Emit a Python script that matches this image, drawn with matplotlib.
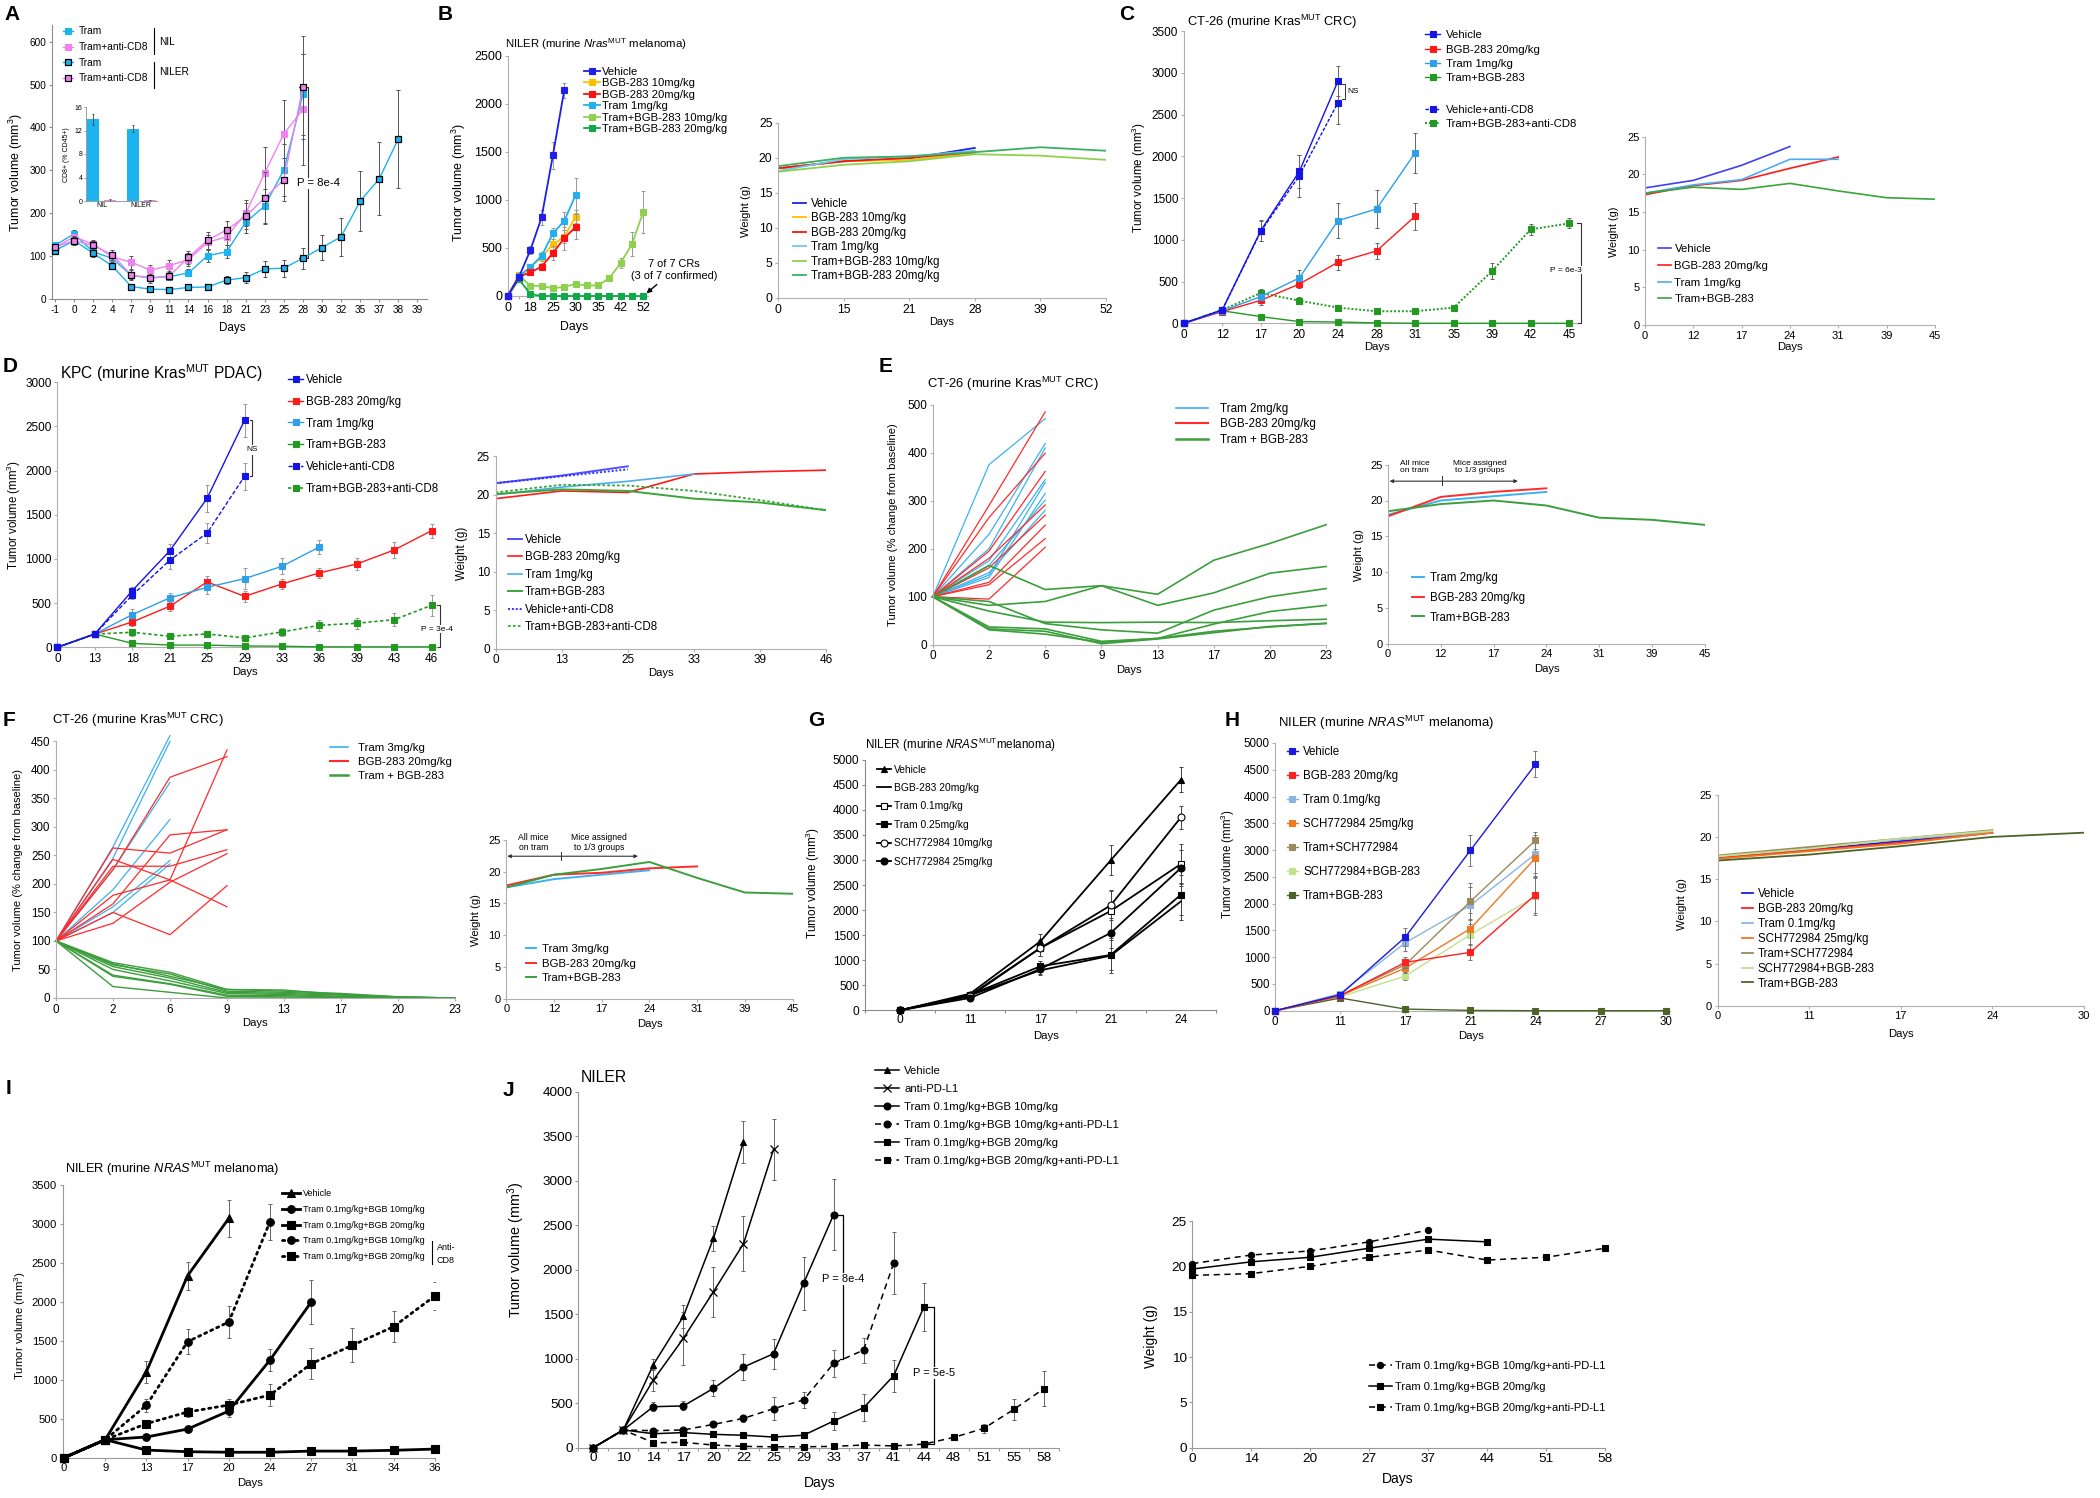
import numpy as np
import matplotlib
matplotlib.use('Agg')
import matplotlib.pyplot as plt
from matplotlib.lines import Line2D
from matplotlib.legend import Legend

plt.rcParams['font.family'] = ['Liberation Sans', 'DejaVu Sans']
plt.rcParams['mathtext.fontset'] = 'custom'
plt.rcParams['mathtext.rm'] = 'Liberation Sans'
plt.rcParams['mathtext.it'] = 'Liberation Sans:italic'
plt.rcParams['mathtext.bf'] = 'Liberation Sans:bold'
plt.rcParams['axes.unicode_minus'] = False

# ======================= DATA =======================
# Panel A
A_days = ['-1', '0', '2', '4', '7', '9', '11', '14', '16', '18', '21', '23', '25', '28', '30', '32', '35', '37', '38', '39']
A_nil_tram = [125, 152, 110, 95, 55, 50, 52, 61, 101, 110, 179, 217, 301, 477]
A_nil_tram_err = [8, 10, 8, 10, 8, 6, 6, 8, 15, 15, 25, 40, 60, 95]
A_nil_cd8 = [120, 145, 128, 98, 86, 67, 78, 92, 132, 145, 200, 294, 385, 442]
A_nil_cd8_err = [8, 8, 10, 12, 15, 12, 12, 15, 18, 20, 30, 60, 80, 130]
A_niler_tram = [113, 136, 107, 77, 29, 23, 22, 27, 28, 44, 50, 70, 72, 95, 120, 145, 228, 280, 373]
A_niler_tram_err = [6, 8, 8, 8, 4, 3, 3, 4, 4, 10, 12, 18, 20, 25, 30, 45, 70, 85, 115]
A_niler_cd8 = [121, 136, 125, 103, 56, 48, 54, 97, 137, 161, 193, 236, 278, 494]
A_niler_cd8_err = [8, 10, 10, 12, 12, 10, 10, 15, 20, 22, 30, 60, 50, 120]
A_inset_groups = ['NIL', 'NILER']
A_inset_tram = [13.9, 12.3]
A_inset_tram_err = [0.9, 0.6]
A_inset_cd8 = [0.2, 0.1]
A_inset_cd8_err = [0.15, 0.05]

# Panel B
B_days = ['0', '', '18', '', '25', '', '30', '', '35', '', '42', '', '52']
B_vehicle = [0, 200, 475, 818, 1463, 2139]
B_vehicle_err = [0, 20, 40, 80, 140, 80]
B_bgb10 = [0, 200, 300, 405, 537, 617, 825]
B_bgb10_err = [0, 20, 30, 40, 60, 70, 70]
B_bgb20 = [0, 200, 246, 305, 447, 600, 718]
B_bgb20_err = [0, 20, 25, 35, 70, 120, 130]
B_tram = [0, 200, 302, 416, 652, 780, 1047]
B_tram_err = [0, 20, 30, 40, 60, 90, 180]
B_tb10 = [0, 215, 107, 104, 80, 95, 125, 110, 110, 187, 343, 541, 877]
B_tb10_err = [0, 20, 15, 15, 15, 15, 30, 20, 20, 20, 50, 120, 220]
B_tb20 = [0, 173, 21, 0, 0, 0, 0, 0, 0, 0, 0, 0, 0]
B_tb20_err = [0, 20, 8, 0, 0, 0, 0, 0, 0, 0, 0, 0, 0]
B_w_days = ['0', '15', '21', '28', '39', '52']
B_w_vehicle = [18.5, 19.5, 19.9, 21.4]
B_w_bgb10 = [18.5, 19.5, 19.7, 20.7]
B_w_bgb20 = [18.5, 19.5, 20.0, 20.8]
B_w_tram = [18.1, 19.8, 20.2, 21.0]
B_w_tb10 = [18.0, 19.0, 19.5, 20.5, 20.3, 19.7]
B_w_tb20 = [18.8, 20.0, 20.2, 20.8, 21.5, 21.0]

# Panel C
C_days = ['0', '12', '17', '20', '24', '28', '31', '35', '39', '42', '45']
C_vehicle = [0, 160, 1110, 1820, 2900]
C_vehicle_err = [0, 30, 130, 200, 180]
C_vehicle_cd8 = [0, 160, 1100, 1768, 2642]
C_vehicle_cd8_err = [0, 30, 120, 250, 260]
C_bgb20 = [0, 140, 275, 471, 730, 866, 1281]
C_bgb20_err = [0, 20, 50, 50, 90, 100, 160]
C_tram = [0, 150, 319, 543, 1229, 1369, 2039]
C_tram_err = [0, 20, 50, 90, 210, 230, 240]
C_tb = [0, 150, 80, 20, 15, 5, 0, 0, 0, 0, 0]
C_tb_err = [0, 20, 20, 10, 8, 5, 3, 3, 3, 3, 3]
C_tb_cd8 = [0, 160, 363, 271, 188, 144, 144, 188, 627, 1125, 1197]
C_tb_cd8_err = [0, 20, 50, 40, 30, 25, 25, 30, 100, 70, 60]
C_w_days = ['0', '12', '17', '24', '31', '39', '45']
C_w_vehicle = [18.2, 19.2, 21.2, 23.7]
C_w_bgb20 = [17.3, 18.5, 19.2, 20.8, 22.3]
C_w_tram = [17.5, 18.6, 19.3, 22.0, 22.0]
C_w_tb = [17.5, 18.3, 18.0, 18.8, 17.8, 16.9, 16.7]

# Panel D
D_days = ['0', '13', '18', '21', '25', '29', '33', '36', '39', '43', '46']
D_vehicle = [0, 151, 641, 1091, 1687, 2570]
D_vehicle_err = [0, 15, 40, 80, 150, 190]
D_vehicle_cd8 = [0, 151, 590, 985, 1294, 1936]
D_vehicle_cd8_err = [0, 15, 40, 100, 110, 150]
D_bgb20 = [0, 150, 287, 464, 740, 577, 717, 842, 943, 1102, 1321]
D_bgb20_err = [0, 15, 50, 50, 70, 60, 60, 60, 70, 90, 80]
D_tram = [0, 150, 370, 559, 679, 777, 917, 1136]
D_tram_err = [0, 15, 60, 60, 70, 120, 90, 80]
D_tb = [0, 150, 45, 25, 25, 15, 12, 5, 5, 5, 5]
D_tb_err = [0, 15, 15, 10, 10, 8, 8, 5, 5, 5, 5]
D_tb_cd8 = [0, 150, 170, 125, 151, 106, 174, 249, 272, 313, 476]
D_tb_cd8_err = [0, 15, 40, 30, 30, 30, 50, 60, 60, 70, 120]
D_w_days = ['0', '13', '25', '33', '39', '46']
D_w_vehicle = [21.5, 22.5, 23.7]
D_w_vehicle_cd8 = [21.5, 22.4, 23.3]
D_w_bgb20 = [19.5, 20.5, 20.3, 22.7, 23.0, 23.2]
D_w_tram = [20.0, 21.0, 21.75, 22.7]
D_w_tb = [20.1, 20.7, 20.5, 19.5, 19.0, 18.0]
D_w_tb_cd8 = [20.3, 21.3, 21.2, 20.5, 19.3, 18.0]

# Panel E (individual mice, % of baseline)
E_days = ['0', '2', '6', '9', '13', '17', '20', '23']
E_tram_mice = [[100, 375, 471], [100, 230, 419], [100, 200, 410], [100, 175, 344],
               [100, 145, 338], [100, 140, 315], [100, 165, 301], [100, 150, 280]]
E_bgb_mice = [[100, 290, 485], [100, 265, 399], [100, 195, 361], [100, 180, 291],
              [100, 130, 249], [100, 125, 221], [100, 95, 203], [100, 160, 270]]
E_tb_mice = [[100, 165, 115, 123, 105, 176, 211, 250],
             [100, 82, 90, 123, 82, 108, 149, 163],
             [100, 70, 47, 46, 47, 46, 50, 53],
             [100, 90, 44, 31, 24, 72, 100, 117],
             [100, 37, 33, 7, 13, 43, 69, 82],
             [100, 33, 28, 2, 12, 25, 38, 44],
             [100, 31, 22, 5, 13, 28, 37, 45]]
E_w_days = ['0', '12', '17', '24', '31', '39', '45']
E_w_tram = [18.0, 20.0, 20.6, 21.2]
E_w_bgb = [17.8, 20.5, 21.2, 21.7]
E_w_tb = [18.5, 19.5, 20.0, 19.3, 17.6, 17.3, 16.6]

# Panel F (individual mice, % of baseline)
F_days = ['0', '2', '6', '9', '13', '17', '20', '23']
F_tram_mice = [[100, 265, 460], [100, 245, 450], [100, 225, 378], [100, 190, 313],
               [100, 160, 241], [100, 150, 235]]
F_bgb_mice = [[100, 225, 387, 423], [100, 180, 207, 435], [100, 263, 254, 295],
              [100, 231, 231, 260], [100, 243, 207, 160], [100, 165, 286, 295],
              [100, 150, 111, 197], [100, 131, 203, 253]]
F_tb_mice = [[100, 62, 45, 15, 12, 8, 2, 0],
             [100, 58, 42, 12, 10, 6, 2, 0],
             [100, 55, 35, 10, 8, 5, 1, 0],
             [100, 50, 30, 8, 6, 3, 1, 0],
             [100, 40, 25, 5, 4, 2, 0, 0],
             [100, 38, 24, 3, 2, 1, 0, 0],
             [100, 20, 10, 0, 0, 0, 0, 0],
             [100, 60, 38, 15, 14, 6, 2, 0]]
F_w_days = ['0', '12', '17', '24', '31', '39', '45']
F_w_tram = [17.5, 18.8, 19.5, 20.2]
F_w_bgb = [17.8, 19.5, 19.8, 20.5, 20.8]
F_w_tb = [17.5, 19.5, 20.4, 21.5, 19.0, 16.7, 16.5]

# Panel G
G_days = ['0', '11', '17', '21', '24']
G_vehicle = [0, 332, 1376, 2992, 4601]
G_vehicle_err = [0, 30, 150, 300, 250]
G_bgb20 = [0, 300, 798, 1090, 2174]
G_bgb20_err = [0, 30, 100, 350, 370]
G_tram01 = [0, 300, 1243, 1981, 2919]
G_tram01_err = [0, 30, 150, 400, 400]
G_tram025 = [0, 310, 878, 1104, 2307]
G_tram025_err = [0, 30, 100, 300, 400]
G_sch10 = [0, 280, 1243, 2094, 3850]
G_sch10_err = [0, 30, 150, 300, 230]
G_sch25 = [0, 246, 824, 1543, 2839]
G_sch25_err = [0, 30, 100, 300, 350]

# Panel H
H_days = ['0', '11', '17', '21', '24', '27', '30']
H_vehicle = [0, 299, 1376, 2995, 4602]
H_vehicle_err = [0, 30, 170, 290, 240]
H_bgb20 = [0, 280, 903, 1090, 2167]
H_bgb20_err = [0, 30, 100, 150, 350]
H_tram01 = [0, 320, 1270, 1968, 2927]
H_tram01_err = [0, 30, 150, 350, 350]
H_sch25 = [0, 280, 797, 1532, 2852]
H_sch25_err = [0, 30, 100, 300, 350]
H_tram_sch = [0, 290, 859, 2042, 3182]
H_tram_sch_err = [0, 30, 100, 350, 160]
H_sch_bgb = [0, 260, 648, 1420, 2136]
H_sch_bgb_err = [0, 30, 80, 300, 350]
H_tb = [0, 237, 30, 5, 0, 0, 0]
H_tb_err = [0, 40, 20, 5, 5, 5, 5]
H_w_days = ['0', '11', '17', '24', '30']
H_w_vehicle = [17.5, 18.5, 19.5, 20.5]
H_w_bgb20 = [17.5, 18.4, 19.3, 20.5]
H_w_tram01 = [17.7, 18.7, 19.7, 20.6]
H_w_sch25 = [17.4, 18.3, 19.2, 20.5]
H_w_tram_sch = [17.8, 18.8, 19.8, 20.8]
H_w_sch_bgb = [17.7, 18.6, 19.8, 20.7]
H_w_tb = [17.2, 17.9, 18.9, 20.0, 20.5]

# Panel I
I_days = ['0', '9', '13', '17', '20', '24', '27', '31', '34', '36']
I_vehicle = [0, 231, 1105, 2339, 3076]
I_vehicle_err = [0, 20, 140, 180, 240]
I_tb10 = [0, 231, 266, 368, 600, 1255, 2000]
I_tb10_err = [0, 20, 30, 40, 80, 140, 280]
I_tb20 = [0, 231, 98, 77, 70, 70, 85, 85, 95, 111]
I_tb20_err = [0, 20, 10, 10, 8, 8, 10, 10, 10, 12]
I_tb10_cd8 = [0, 231, 673, 1491, 1744, 3033]
I_tb10_cd8_err = [0, 20, 80, 160, 200, 230]
I_tb20_cd8 = [0, 231, 437, 587, 677, 805, 1208, 1444, 1684, 2078]
I_tb20_cd8_err = [0, 20, 40, 60, 80, 140, 200, 220, 200, 180]

# Panel J
J_days = ['0', '10', '14', '17', '20', '22', '25', '29', '33', '37', '41', '44', '48', '51', '55', '58']
J_vehicle = [0, 200, 934, 1477, 2354, 3438]
J_vehicle_err = [0, 20, 60, 130, 140, 240]
J_pdl1 = [0, 200, 761, 1230, 1754, 2294, 3355]
J_pdl1_err = [0, 20, 120, 300, 280, 310, 340]
J_tb10 = [0, 200, 461, 470, 667, 907, 1057, 1848, 2621]
J_tb10_err = [0, 20, 50, 50, 90, 150, 170, 300, 400]
J_tb10_pdl1 = [0, 200, 191, 200, 262, 330, 439, 536, 949, 1098, 2077]
J_tb10_pdl1_err = [0, 20, 20, 20, 30, 40, 130, 90, 150, 140, 350]
J_tb20 = [0, 200, 157, 170, 150, 140, 120, 140, 300, 450, 810, 1578]
J_tb20_err = [0, 20, 20, 20, 20, 20, 20, 30, 100, 150, 180, 270]
J_tb20_pdl1 = [0, 200, 56, 60, 30, 15, 10, 10, 15, 30, 20, 40, 116, 217, 431, 664]
J_tb20_pdl1_err = [0, 20, 10, 10, 10, 5, 5, 5, 5, 10, 5, 10, 20, 50, 120, 200]
J_w_days = ['0', '14', '20', '27', '37', '44', '51', '58']
J_w_tb10_pdl1 = [20.3, 21.25, 21.7, 22.7, 24.0]
J_w_tb20 = [19.7, 20.5, 21.0, 22.0, 23.0, 22.7]
J_w_tb20_pdl1 = [19.0, 19.2, 20.0, 21.0, 21.8, 20.7, 21.0, 22.0]

# ======================= FIGURE =======================
W, H = 2100, 1498
fig = plt.figure(figsize=(W / 100, H / 100), dpi=100)
fig.patch.set_facecolor('white')


def make_ax(px0, step, xlim, py0, py1, v1, ylim):
    ppu = (py0 - py1) / v1
    left = px0 + xlim[0] * step
    right = px0 + xlim[1] * step
    top = py0 - ylim[1] * ppu
    bottom = py0 - ylim[0] * ppu
    ax = fig.add_axes([left / W, 1 - bottom / H, (right - left) / W, (bottom - top) / H])
    ax.set_xlim(*xlim)
    ax.set_ylim(*ylim)
    return ax


def style(ax, cats, yticks, fs, spc='#a6a6a6', between=False, tl=2.5):
    for s in ('top', 'right'):
        ax.spines[s].set_visible(False)
    for s in ('left', 'bottom'):
        ax.spines[s].set_color(spc)
        ax.spines[s].set_linewidth(0.8)
    ax.set_yticks(yticks)
    ax.set_xticks(np.arange(len(cats)))
    ax.set_xticklabels(cats)
    ax.tick_params(axis='both', which='both', labelsize=fs, color=spc, width=0.8, length=tl, pad=1.5)
    if between:
        ax.tick_params(axis='x', which='major', length=0, pad=3)
        ax.set_xticks(np.arange(len(cats) + 1) - 0.5, minor=True)
    ax.patch.set_alpha(0)


def series(ax, y, err=None, c='k', m='s', ms=4.5, ls='-', lw=1.0, mfc=None, mec=None,
           mew=0.8, ec='#808080', elw=0.7, cap=1.5, z=3):
    x = np.arange(len(y))
    if err is not None:
        ax.errorbar(x, y, yerr=err, fmt='none', ecolor=ec, elinewidth=elw, capsize=cap,
                    capthick=elw, zorder=z - 0.5)
    ln, = ax.plot(x, y, color=c, marker=m, ms=ms, ls=ls, lw=lw,
                  mfc=c if mfc is None else mfc, mec=c if mec is None else mec,
                  mew=mew, zorder=z, clip_on=False)
    return ln


def legend_at(ax, handles, labels, hx0, hx1, tx, y0, dy, fs):
    fpx = fs * 100 / 72
    leg = Legend(ax, handles, labels, loc='upper left',
                 bbox_to_anchor=(hx0 / W, 1 - (y0 - 0.55 * fpx) / H),
                 bbox_transform=fig.transFigure, frameon=False, fontsize=fs,
                 borderpad=0, borderaxespad=0, handlelength=(hx1 - hx0) / fpx,
                 handletextpad=(tx - hx1) / fpx, labelspacing=max(dy / fpx - 1.117, 0),
                 numpoints=1, handleheight=0.7)
    ax.add_artist(leg)
    return leg


def xlab(ax, s, cx, cy, fs):
    ax.set_xlabel(s, fontsize=fs, va='center')
    ax.xaxis.set_label_coords(cx / W, 1 - cy / H, transform=fig.transFigure)


def ylab(ax, s, cx, cy, fs):
    ax.set_ylabel(s, fontsize=fs, va='center', ha='center')
    ax.yaxis.set_label_coords(cx / W, 1 - cy / H, transform=fig.transFigure)


def txt(px, py, s, fs, **kw):
    kw.setdefault('va', 'center')
    kw.setdefault('ha', 'left')
    return fig.text(px / W, 1 - py / H, s, fontsize=fs, **kw)


def vline_fig(px, py0, py1, lw=0.8, c='k'):
    fig.add_artist(Line2D([px / W, px / W], [1 - py0 / H, 1 - py1 / H],
                          transform=fig.transFigure, color=c, lw=lw))


def letter(px, py, s):
    txt(px, py, s, 15, fontweight='bold')


TV = 'Tumor volume (mm$^3$)'
PCT = 'Tumor volume (% change from baseline)'
WG = 'Weight (g)'

# ---------------- Panel A ----------------
letter(4, 15, 'A')
axA = make_ax(55, 19.07, (-0.15, 19.5), 299, 41.7, 600, (0, 640))
style(axA, A_days, np.arange(0, 601, 100), 7.2, spc='#8c8c8c')
cyanA, pinkA = '#1cb3ef', '#ee82ee'
aA1 = series(axA, A_nil_tram, A_nil_tram_err, c=cyanA, ms=4.3, lw=1.0, ec='#555555', z=3)
aA2 = series(axA, A_nil_cd8, A_nil_cd8_err, c=pinkA, ms=4.3, lw=1.0, ec='#555555', z=3)
aA3 = series(axA, A_niler_tram, A_niler_tram_err, c=cyanA, ms=4.3, lw=1.0, mec='k', mew=0.9,
             ec='#555555', z=4)
aA4 = series(axA, A_niler_cd8, A_niler_cd8_err, c=pinkA, ms=4.3, lw=1.0, mec='k', mew=0.9,
             ec='#555555', z=4)
legend_at(axA, [aA1, aA2, aA3, aA4], ['Tram', 'Tram+anti-CD8', 'Tram', 'Tram+anti-CD8'],
          63, 73, 79, 32, 17, 7.3)
vline_fig(154, 28, 54)
vline_fig(154, 62, 88)
txt(159, 42, 'NIL', 7.3)
txt(159, 72, 'NILER', 7.3)
pA = 13
axA.plot([pA - 0.2, pA + 0.27, pA + 0.27, pA - 0.2],
         [A_niler_cd8[pA], A_niler_cd8[pA], A_niler_tram[pA], A_niler_tram[pA]],
         color='#333333', lw=0.8, zorder=2)
axA.text(pA + 0.8, 270, 'P = 8e-4', fontsize=8.2, ha='center', va='center', zorder=6,
         bbox=dict(fc='white', ec='none', pad=0.5))
xlab(axA, 'Days', 232, 328, 8.4)
ylab(axA, TV, 16, 172, 9)

# inset
axAi = fig.add_axes([86 / W, 1 - 201 / H, 71 / W, 94 / H])
xi = np.arange(len(A_inset_groups))
axAi.bar(xi - 0.215, A_inset_tram, 0.3, color=cyanA, yerr=A_inset_tram_err,
         error_kw=dict(elinewidth=0.6, capsize=1, capthick=0.6, ecolor='#444444'))
axAi.bar(xi + 0.215, A_inset_cd8, 0.3, color=pinkA, yerr=A_inset_cd8_err,
         error_kw=dict(elinewidth=0.6, capsize=1, capthick=0.6, ecolor='#444444'))
axAi.set_xlim(-0.39, 1.40)
axAi.set_ylim(0, 16)
axAi.set_yticks([0, 4, 8, 12, 16])
axAi.set_xticks(xi)
axAi.set_xticklabels(A_inset_groups)
for s in ('top', 'right'):
    axAi.spines[s].set_visible(False)
for s in ('left', 'bottom'):
    axAi.spines[s].set_color('#8c8c8c')
    axAi.spines[s].set_linewidth(0.6)
axAi.tick_params(labelsize=5, length=1.5, width=0.6, color='#8c8c8c', pad=1)
axAi.tick_params(axis='x', length=0)
axAi.patch.set_alpha(0)
ylab(axAi, 'CD8+ (% CD45+)', 66, 155, 5)

# ---------------- Panel B ----------------
letter(438, 15, 'B')
txt(505, 44, r'NILER (murine $\mathit{Nras}^{\mathrm{MUT}}$ melanoma)', 8.2)
axB = make_ax(507.7, 11.3, (0, 12.4), 296, 55.7, 2500, (0, 2500))
style(axB, B_days, np.arange(0, 2501, 500), 9, spc='#b0b0b0')
cBv, cB10, cB20, cBt, cBtb10, cBtb20 = '#1f1fe8', '#ffc000', '#ff1010', '#22b0f0', '#8fd050', '#10a84a'
eB = '#999999'
b1 = series(axB, B_vehicle, B_vehicle_err, c=cBv, ms=4.8, lw=1.3, ec=eB, z=6)
b2 = series(axB, B_bgb10, B_bgb10_err, c=cB10, ms=4.8, lw=1.3, ec=eB, z=4)
b3 = series(axB, B_bgb20, B_bgb20_err, c=cB20, ms=4.8, lw=1.3, ec=eB, z=5)
b4 = series(axB, B_tram, B_tram_err, c=cBt, ms=4.8, lw=1.3, ec=eB, z=4)
b5 = series(axB, B_tb10, B_tb10_err, c=cBtb10, ms=4.8, lw=1.3, ec=eB, z=3)
b6 = series(axB, B_tb20, B_tb20_err, c=cBtb20, ms=4.8, lw=1.3, ec=eB, z=3)
legend_at(axB, [b1, b2, b3, b4, b5, b6],
          ['Vehicle', 'BGB-283 10mg/kg', 'BGB-283 20mg/kg', 'Tram 1mg/kg',
           'Tram+BGB-283 10mg/kg', 'Tram+BGB-283 20mg/kg'], 584, 600, 602, 73, 14, 8.1)
axB.annotate('7 of 7 CRs\n(3 of 7 confirmed)', xy=(len(B_tb20) - 1, B_tb20[-1]), xytext=(14.7, 270),
             fontsize=7.9, ha='center', va='center', multialignment='center', annotation_clip=False,
             arrowprops=dict(arrowstyle='-|>', color='k', lw=1.0, shrinkA=1, shrinkB=3, mutation_scale=7))
xlab(axB, 'Days', 574, 327, 8.9)
ylab(axB, TV, 459, 182, 9)

axBw = make_ax(778, 65.6, (0, 5), 298, 122.7, 25, (0, 25))
style(axBw, B_w_days, np.arange(0, 26, 5), 8.7, spc='#b0b0b0')
bw = [axBw.plot(np.arange(len(v)), v, color=c, lw=1.3)[0] for v, c in
      [(B_w_vehicle, cBv), (B_w_bgb10, cB10), (B_w_bgb20, cB20), (B_w_tram, '#6cc8f5'),
       (B_w_tb10, cBtb10), (B_w_tb20, '#3cb060')]]
legend_at(axBw, bw, ['Vehicle', 'BGB-283 10mg/kg', 'BGB-283 20mg/kg', 'Tram 1mg/kg',
                     'Tram+BGB-283 10mg/kg', 'Tram+BGB-283 20mg/kg'], 793, 806, 811, 204, 15.4, 8.3)
xlab(axBw, 'Days', 942, 322, 7.9)
ylab(axBw, WG, 746, 211, 8.1)

# ---------------- Panel C ----------------
letter(1119, 15, 'C')
txt(1187, 22, r'CT-26 (murine Kras$^{\mathrm{MUT}}$ CRC)', 9.3)
axC = make_ax(1183.7, 38.56, (0, 10.2), 323.3, 31, 3500, (0, 3500))
style(axC, C_days, np.arange(0, 3501, 500), 8.5, spc='#b0b0b0')
cCv, cCr, cCt, cCg = '#1414e6', '#ff1a1a', '#2f9fe8', '#229a22'
eC = '#666666'
c1 = series(axC, C_vehicle, C_vehicle_err, c=cCv, ms=4.5, lw=1.0, ec=eC, z=6)
c2 = series(axC, C_bgb20, C_bgb20_err, c=cCr, ms=4.5, lw=1.0, ec=eC, z=5)
c3 = series(axC, C_tram, C_tram_err, c=cCt, ms=4.5, lw=1.0, ec=eC, z=5)
c4 = series(axC, C_tb, C_tb_err, c=cCg, ms=4.5, lw=1.0, ec=eC, z=4)
c5 = series(axC, C_vehicle_cd8, C_vehicle_cd8_err, c=cCv, ms=4.5, lw=1.0, ls=(0, (2.5, 1.2)), ec=eC, z=6)
c6 = series(axC, C_tb_cd8, C_tb_cd8_err, c=cCg, ms=4.5, lw=1.4, ls=(0, (1, 1)), ec=eC, z=4)
legend_at(axC, [c1, c2, c3, c4], ['Vehicle', 'BGB-283 20mg/kg', 'Tram 1mg/kg', 'Tram+BGB-283'],
          1425, 1440, 1446, 36.7, 17, 8.2)
legend_at(axC, [c5, c6], ['Vehicle+anti-CD8', 'Tram+BGB-283+anti-CD8'],
          1425, 1440, 1446, 111, 16.7, 8.2)
iC = 4
axC.plot([iC + 0.1, iC + 0.18, iC + 0.18, iC + 0.1],
         [C_vehicle[iC] - 40, C_vehicle[iC] - 40, C_vehicle_cd8[iC] + 40, C_vehicle_cd8[iC] + 40],
         color='#333333', lw=0.7)
axC.text(iC + 0.38, 2770, 'NS', fontsize=6, ha='center', va='center')
jC = len(C_days) - 1
axC.plot([jC + 0.2, jC + 0.3, jC + 0.3, jC + 0.2],
         [C_tb_cd8[jC], C_tb_cd8[jC], C_tb[jC], C_tb[jC]], color='#333333', lw=0.8, clip_on=False)
axC.text(jC - 0.09, 638, 'P = 6e-3', fontsize=6, ha='center', va='center',
         bbox=dict(fc='white', ec='none', pad=0.5), zorder=6)
xlab(axC, 'Days', 1377, 347, 8.1)
ylab(axC, TV, 1139, 178, 8.4)

axCw = make_ax(1645, 48.3, (0, 6), 325, 136.7, 25, (0, 25))
style(axCw, C_w_days, np.arange(0, 26, 5), 8, spc='#b0b0b0')
cw = [axCw.plot(np.arange(len(v)), v, color=c, lw=1.2)[0] for v, c in
      [(C_w_vehicle, '#4040f0'), (C_w_bgb20, cCr), (C_w_tram, '#4aaef0'), (C_w_tb, '#3aa53a')]]
legend_at(axCw, cw, ['Vehicle', 'BGB-283 20mg/kg', 'Tram 1mg/kg', 'Tram+BGB-283'],
          1658, 1671, 1674.5, 250.7, 19.4, 8.2)
xlab(axCw, 'Days', 1790, 347, 8.1)
ylab(axCw, WG, 1614, 232, 7.8)

# ---------------- Panel D ----------------
letter(3, 366, 'D')
txt(60, 373, r'KPC (murine Kras$^{\mathrm{MUT}}$ PDAC)', 11.2)
axD = make_ax(57.4, 37.43, (0, 10.15), 647.3, 382.3, 3000, (0, 3000))
style(axD, D_days, np.arange(0, 3001, 500), 8.5, spc='#b0b0b0')
cDv, cDr, cDt, cDg = '#1414e6', '#ff1a1a', '#2f9fe8', '#229a22'
eD = '#999999'
d1 = series(axD, D_vehicle, D_vehicle_err, c=cDv, ms=4.5, lw=1.0, ec=eD, z=6)
d2 = series(axD, D_bgb20, D_bgb20_err, c=cDr, ms=4.5, lw=1.0, ec=eD, z=5)
d3 = series(axD, D_tram, D_tram_err, c=cDt, ms=4.5, lw=1.0, ec=eD, z=5)
d4 = series(axD, D_tb, D_tb_err, c=cDg, ms=4.5, lw=1.0, ec=eD, z=4)
d5 = series(axD, D_vehicle_cd8, D_vehicle_cd8_err, c=cDv, ms=4.5, lw=1.0, ls=(0, (3, 1.5)), ec=eD, z=6)
d6 = series(axD, D_tb_cd8, D_tb_cd8_err, c=cDg, ms=4.5, lw=1.2, ls=(0, (2, 1.5)), ec=eD, z=4)
legend_at(axD, [d1, d2, d3, d4, d5, d6],
          ['Vehicle', 'BGB-283 20mg/kg', 'Tram 1mg/kg', 'Tram+BGB-283', 'Vehicle+anti-CD8',
           'Tram+BGB-283+anti-CD8'], 288, 303, 306, 380, 22.8, 8.3)
iD = 5
axD.plot([iD + 0.15, iD + 0.21, iD + 0.21, iD + 0.15],
         [D_vehicle[iD], D_vehicle[iD], D_vehicle_cd8[iD], D_vehicle_cd8[iD]], color='#333333', lw=0.8)
axD.text(iD + 0.21, 2234, 'NS', fontsize=6, ha='center', va='center',
         bbox=dict(fc='white', ec='none', pad=0.8))
jD = len(D_days) - 1
axD.plot([jD + 0.15, jD + 0.22, jD + 0.22, jD + 0.15],
         [D_tb_cd8[jD], D_tb_cd8[jD], D_tb[jD], D_tb[jD]], color='#333333', lw=0.8, clip_on=False)
axD.text(jD + 0.14, 207, 'P = 3e-4', fontsize=6, ha='center', va='center',
         bbox=dict(fc='white', ec='none', pad=0.5), zorder=6)
xlab(axD, 'Days', 245, 672, 8.1)
ylab(axD, TV, 14, 515, 8.3)

axDw = make_ax(495.6, 66.1, (0, 5), 648.7, 456.3, 25, (0, 25))
style(axDw, D_w_days, np.arange(0, 26, 5), 8.5, spc='#b0b0b0')
dw = [axDw.plot(np.arange(len(v)), v, color=c, lw=lw, ls=ls)[0] for v, c, lw, ls in
      [(D_w_vehicle, '#5050ff', 1.4, '-'), (D_w_bgb20, cDr, 1.2, '-'), (D_w_tram, '#4aaef0', 1.2, '-'),
       (D_w_tb, '#3aa53a', 1.4, '-'), (D_w_vehicle_cd8, '#3030ff', 1.4, (0, (1, 1))),
       (D_w_tb_cd8, '#3aa53a', 1.3, (0, (1.5, 1.2)))]]
legend_at(axDw, dw, ['Vehicle', 'BGB-283 20mg/kg', 'Tram 1mg/kg', 'Tram+BGB-283',
                     'Vehicle+anti-CD8', 'Tram+BGB-283+anti-CD8'], 508, 522, 524.6, 540, 18.4, 8.3)
xlab(axDw, 'Days', 661, 673, 8.1)
ylab(axDw, WG, 462, 553, 8.3)

# ---------------- Panel E ----------------
letter(879, 366, 'E')
txt(927, 384, r'CT-26 (murine Kras$^{\mathrm{MUT}}$ CRC)', 9.4)
axE = make_ax(932.8, 56.2, (0, 7), 644.7, 404.7, 500, (0, 500))
style(axE, E_days, np.arange(0, 501, 100), 8.5, spc='#b0b0b0')
cEb, cEr, cEg = '#3cb2f0', '#ff2a2a', '#3c9e3c'
xE = np.arange(len(E_days))
for mouse in E_tram_mice:
    axE.plot(xE[:len(mouse)], mouse, color=cEb, lw=0.9, clip_on=False)
for mouse in E_bgb_mice:
    axE.plot(xE[:len(mouse)], mouse, color=cEr, lw=0.9, clip_on=False)
for mouse in E_tb_mice:
    axE.plot(xE[:len(mouse)], mouse, color=cEg, lw=1.2, clip_on=False)
legend_at(axE, [Line2D([], [], color=cEb, lw=1.2), Line2D([], [], color=cEr, lw=1.5),
                Line2D([], [], color=cEg, lw=1.8)],
          ['Tram 2mg/kg', 'BGB-283 20mg/kg', 'Tram + BGB-283'], 1176, 1208, 1220, 409.7, 16.2, 8.4)
xlab(axE, 'Days', 1129, 670, 8.1)
ylab(axE, PCT, 893, 525, 8.1)

axEw = make_ax(1388, 52.8, (0, 6), 643.7, 464.7, 25, (0, 25))
style(axEw, E_w_days, np.arange(0, 26, 5), 8, spc='#b0b0b0')
ew = [axEw.plot(np.arange(len(v)), v, color=c, lw=1.4)[0] for v, c in
      [(E_w_tram, cEb), (E_w_bgb, cEr), (E_w_tb, cEg)]]
legend_at(axEw, ew, ['Tram 2mg/kg', 'BGB-283 20mg/kg', 'Tram+BGB-283'], 1412, 1424, 1430, 578, 20.8, 8.3)
axEw.annotate('', xy=(2.46, 22.7), xytext=(0.03, 22.7),
              arrowprops=dict(arrowstyle='<|-|>', color='#333333', lw=0.8, mutation_scale=5,
                              shrinkA=0, shrinkB=0), annotation_clip=False)
axEw.plot([1.02, 1.02], [22.1, 23.4], color='#333333', lw=0.7, clip_on=False)
axEw.text(0.5, 24.65, 'All mice\non tram', fontsize=6, ha='center', va='center', linespacing=1.1)
axEw.text(1.74, 24.65, 'Mice assigned\nto 1/3 groups', fontsize=6, ha='center', va='center', linespacing=1.1)
xlab(axEw, 'Days', 1547, 669, 8.1)
ylab(axEw, WG, 1358.5, 555, 8.1)

# ---------------- Panel F ----------------
letter(3, 720, 'F')
txt(52, 720, r'CT-26 (murine Kras$^{\mathrm{MUT}}$ CRC)', 9.4)
axF = make_ax(56, 57, (0, 7), 998, 741.3, 450, (0, 450))
style(axF, F_days, np.arange(0, 451, 50), 8.4, spc='#b0b0b0')
xF = np.arange(len(F_days))
for mouse in F_tram_mice:
    axF.plot(xF[:len(mouse)], mouse, color=cEb, lw=0.9, clip_on=False)
for mouse in F_bgb_mice:
    axF.plot(xF[:len(mouse)], mouse, color=cEr, lw=0.9, clip_on=False)
for mouse in F_tb_mice:
    axF.plot(xF[:len(mouse)], mouse, color=cEg, lw=1.0, clip_on=False)
legend_at(axF, [Line2D([], [], color=cEb, lw=1.2), Line2D([], [], color=cEr, lw=1.5),
                Line2D([], [], color=cEg, lw=1.8)],
          ['Tram 3mg/kg', 'BGB-283 20mg/kg', 'Tram + BGB-283'], 329.5, 347.8, 358, 749, 17, 8.2)
xlab(axF, 'Days', 255, 1023, 8.1)
ylab(axF, PCT, 18, 870, 8)

axFw = make_ax(506.3, 47.7, (0, 6), 998.7, 839.7, 25, (0, 25))
style(axFw, F_w_days, np.arange(0, 26, 5), 8, spc='#b0b0b0')
fw = [axFw.plot(np.arange(len(v)), v, color=c, lw=1.4)[0] for v, c in
      [(F_w_tram, cEb), (F_w_bgb, cEr), (F_w_tb, cEg)]]
legend_at(axFw, fw, ['Tram 3mg/kg', 'BGB-283 20mg/kg', 'Tram+BGB-283'], 525.6, 536, 542, 950.7, 17, 8.2)
axFw.annotate('', xy=(2.76, 22.4), xytext=(0.02, 22.4),
              arrowprops=dict(arrowstyle='<|-|>', color='#333333', lw=0.8, mutation_scale=5,
                              shrinkA=0, shrinkB=0), annotation_clip=False)
axFw.plot([1.14, 1.14], [21.8, 23.1], color='#333333', lw=0.7, clip_on=False)
axFw.text(0.57, 24.6, 'All mice\non tram', fontsize=6.2, ha='center', va='center', linespacing=1.1)
axFw.text(1.94, 24.6, 'Mice assigned\nto 1/3 groups', fontsize=6.2, ha='center', va='center', linespacing=1.1)
xlab(axFw, 'Days', 650, 1024, 8.1)
ylab(axFw, WG, 476, 920, 8.1)

# ---------------- Panel G ----------------
letter(808, 721, 'G')
txt(865, 745, r'NILER (murine $\mathit{NRAS}^{\mathrm{MUT}}$melanoma)', 8.4)
axG = make_ax(901.3, 73.2, (-0.5, 4.3), 1010.3, 759.7, 5000, (0, 5000))
style(axG, G_days, np.arange(0, 5001, 500), 8.6, spc='#8c8c8c', between=True)
eG = '#444444'
g1 = series(axG, G_vehicle, G_vehicle_err, c='k', m='^', ms=5, lw=1.3, ec=eG)
g2 = series(axG, G_bgb20, G_bgb20_err, c='k', m='None', lw=1.3, ec=eG)
g3 = series(axG, G_tram01, G_tram01_err, c='k', m='s', ms=5, mfc='white', lw=1.3, ec=eG)
g4 = series(axG, G_tram025, G_tram025_err, c='k', m='s', ms=5, lw=1.3, ec=eG)
g5 = series(axG, G_sch10, G_sch10_err, c='k', m='o', ms=5, mfc='white', lw=1.3, ec=eG)
g6 = series(axG, G_sch25, G_sch25_err, c='k', m='o', ms=5, lw=1.3, ec=eG)
legend_at(axG, [g1, g2, g3, g4, g5, g6],
          ['Vehicle', 'BGB-283 20mg/kg', 'Tram 0.1mg/kg', 'Tram 0.25mg/kg', 'SCH772984 10mg/kg',
           'SCH772984 25mg/kg'], 877, 891, 894.3, 770.3, 19.9, 7.4)
xlab(axG, 'Days', 1046, 1036, 8.2)
ylab(axG, TV, 813, 883, 8.5)

# ---------------- Panel H ----------------
letter(1225, 720, 'H')
txt(1277.5, 723, r'NILER (murine $\mathit{NRAS}^{\mathrm{MUT}}$ melanoma)', 9.4)
axH = make_ax(1275.2, 65.07, (0, 6.07), 1010.7, 743, 5000, (0, 5000))
style(axH, H_days, np.arange(0, 5001, 500), 8.3, spc='#b0b0b0')
cH = ['#1a1adb', '#ff2020', '#8db4e2', '#f07820', '#9c8a5c', '#c3e08f', '#4f6228']
eH = '#777777'
hh = []
for v, e, c, z in [(H_vehicle, H_vehicle_err, cH[0], 7), (H_bgb20, H_bgb20_err, cH[1], 6),
                   (H_tram01, H_tram01_err, cH[2], 5), (H_sch25, H_sch25_err, cH[3], 5),
                   (H_tram_sch, H_tram_sch_err, cH[4], 5), (H_sch_bgb, H_sch_bgb_err, cH[5], 4),
                   (H_tb, H_tb_err, cH[6], 4)]:
    hh.append(series(axH, v, e, c=c, ms=4.2, lw=1.0, ec=eH, z=z))
H_labels = ['Vehicle', 'BGB-283 20mg/kg', 'Tram 0.1mg/kg', 'SCH772984 25mg/kg', 'Tram+SCH772984',
            'SCH772984+BGB-283', 'Tram+BGB-283']
legend_at(axH, hh, H_labels, 1286.6, 1298, 1303.2, 752.7, 24.8, 8.3)
xlab(axH, 'Days', 1471, 1036, 8.2)
ylab(axH, TV, 1228, 864, 8.3)

axHw = make_ax(1717.5, 91.6, (0, 4), 1005.7, 794.7, 25, (0, 25))
style(axHw, H_w_days, np.arange(0, 26, 5), 8, spc='#b0b0b0')
hw = [axHw.plot(np.arange(len(v)), v, color=c, lw=1.3)[0] for v, c in
      zip([H_w_vehicle, H_w_bgb20, H_w_tram01, H_w_sch25, H_w_tram_sch, H_w_sch_bgb, H_w_tb], cH)]
legend_at(axHw, hw, H_labels, 1741.5, 1753, 1757.5, 894.3, 15.8, 8.3)
xlab(axHw, 'Days', 1901, 1034, 8.1)
ylab(axHw, WG, 1682, 904, 8.1)

# ---------------- Panel I ----------------
letter(6, 1088, 'I')
txt(65, 1169, r'NILER (murine $\mathit{NRAS}^{\mathrm{MUT}}$ melanoma)', 9.3)
axI = make_ax(64, 41.2, (-0.03, 9), 1457.7, 1185.3, 3500, (0, 3500))
style(axI, I_days, np.arange(0, 3501, 500), 8.1, spc='#999999')
eI = '#666666'
dotI = (0, (0.8, 1.6))
i1 = series(axI, I_vehicle, I_vehicle_err, c='k', m='^', ms=5.5, lw=2.0, ec=eI)
i2 = series(axI, I_tb10, I_tb10_err, c='k', m='o', ms=5.5, lw=2.0, ec=eI)
i3 = series(axI, I_tb20, I_tb20_err, c='k', m='s', ms=6, lw=2.0, ec=eI)
i4 = series(axI, I_tb10_cd8, I_tb10_cd8_err, c='k', m='o', ms=5.5, lw=2.0, ls=dotI, ec=eI)
i5 = series(axI, I_tb20_cd8, I_tb20_cd8_err, c='k', m='s', ms=6, lw=2.0, ls=dotI, ec=eI)
for ln in (i4, i5):
    ln.set_dash_capstyle('round')
legend_at(axI, [i1, i2, i3, i4, i5],
          ['Vehicle', 'Tram 0.1mg/kg+BGB 10mg/kg', 'Tram 0.1mg/kg+BGB 20mg/kg',
           'Tram 0.1mg/kg+BGB 10mg/kg', 'Tram 0.1mg/kg+BGB 20mg/kg'], 281.7, 300, 303.3, 1194.3, 16.8, 6.5)
vline_fig(431.7, 1241, 1264.3)
txt(436.7, 1248, 'Anti-', 6.5)
txt(436.7, 1260.5, 'CD8', 6.5)
xlab(axI, 'Days', 250, 1483, 8.2)
ylab(axI, TV, 20, 1326, 8.2)

# ---------------- Panel J ----------------
letter(503, 1091, 'J')
txt(580.5, 1078, 'NILER', 11.3)
axJ = make_ax(593.3, 30.1, (-0.5, 15.47), 1447.7, 1092, 4000, (0, 4000))
style(axJ, J_days, np.arange(0, 4001, 500), 9.7, spc='#999999', between=True)
eJ = '#666666'
dashJ = (0, (4, 3))
j1 = series(axJ, J_vehicle, J_vehicle_err, c='k', m='^', ms=5, lw=1.1, ec=eJ)
j2 = series(axJ, J_pdl1, J_pdl1_err, c='k', m='x', ms=6, mew=0.9, lw=1.1, ec=eJ)
j3 = series(axJ, J_tb10, J_tb10_err, c='k', m='o', ms=5, lw=1.1, ec=eJ)
j4 = series(axJ, J_tb10_pdl1, J_tb10_pdl1_err, c='k', m='o', ms=5, lw=1.1, ls=dashJ, ec=eJ)
j5 = series(axJ, J_tb20, J_tb20_err, c='k', m='s', ms=5, lw=1.1, ec=eJ)
j6 = series(axJ, J_tb20_pdl1, J_tb20_pdl1_err, c='k', m='s', ms=5, lw=1.1, ls=dashJ, ec=eJ)
J_labels = ['Vehicle', 'anti-PD-L1', 'Tram 0.1mg/kg+BGB 10mg/kg', 'Tram 0.1mg/kg+BGB 10mg/kg+anti-PD-L1',
            'Tram 0.1mg/kg+BGB 20mg/kg', 'Tram 0.1mg/kg+BGB 20mg/kg+anti-PD-L1']
legend_at(axJ, [j1, j2, j3, j4, j5, j6], J_labels, 874.5, 899, 904.4, 1072.7, 20.7, 8.2)
kJ = 8
axJ.plot([kJ + 0.1, kJ + 0.3, kJ + 0.3, kJ + 0.2],
         [J_tb10[kJ], J_tb10[kJ], 1000, 1000], color='k', lw=0.9, zorder=2)
axJ.text(kJ + 0.3, 1894, 'P = 8e-4', fontsize=8, ha='center', va='center',
         bbox=dict(fc='white', ec='none', pad=0.8), zorder=6)
mJ = 11
axJ.plot([mJ + 0.1, mJ + 0.33, mJ + 0.33, mJ + 0.1],
         [J_tb20[mJ], J_tb20[mJ], J_tb20_pdl1[mJ], J_tb20_pdl1[mJ]], color='k', lw=0.9, zorder=2)
axJ.text(mJ + 0.33, 844, 'P = 5e-5', fontsize=8, ha='center', va='center',
         bbox=dict(fc='white', ec='none', pad=0.8), zorder=6)
xlab(axJ, 'Days', 820, 1483, 10)
ylab(axJ, TV, 516, 1250, 10.4)

axJw = make_ax(1192.3, 58.97, (0, 7), 1447.7, 1221, 25, (0, 25))
style(axJw, J_w_days, np.arange(0, 26, 5), 9.7, spc='#999999')
jw1 = series(axJw, J_w_tb10_pdl1, None, c='k', m='o', ms=4.5, lw=1.1, ls=dashJ)
jw2 = series(axJw, J_w_tb20, None, c='k', m='s', ms=4.5, lw=1.1)
jw3 = series(axJw, J_w_tb20_pdl1, None, c='k', m='s', ms=4.5, lw=1.1, ls=dashJ)
legend_at(axJw, [jw1, jw2, jw3], J_labels[3:], 1369, 1391.7, 1395, 1367, 23.3, 8)
xlab(axJw, 'Days', 1398, 1479, 10)
ylab(axJw, WG, 1151, 1336, 9.9)

fig.savefig('out.png', dpi=100, facecolor='white')
